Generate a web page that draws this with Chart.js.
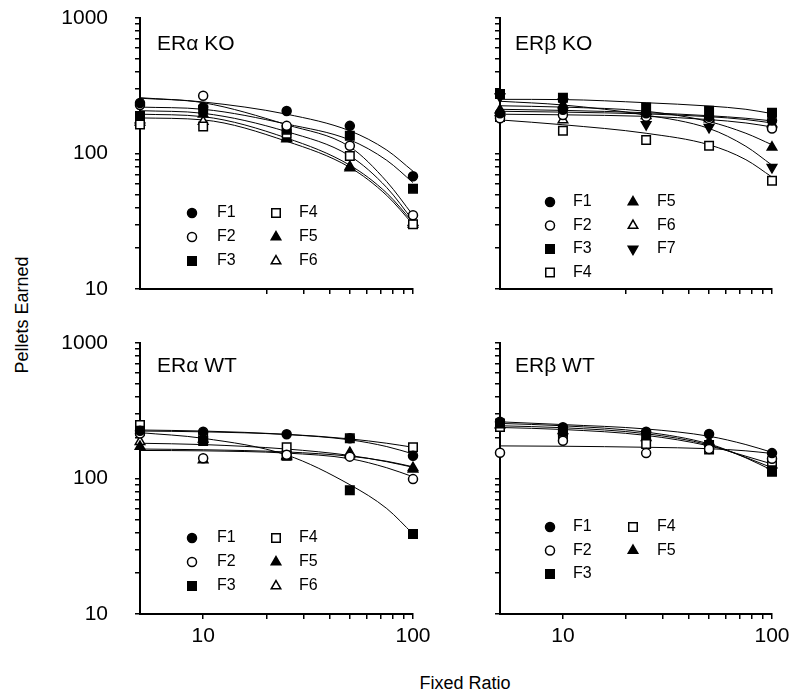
<!DOCTYPE html>
<html>
<head>
<meta charset="utf-8">
<script src="https://cdn.jsdelivr.net/npm/chart.js@4.4.1/dist/chart.umd.min.js"></script>
<style>
  html, body { margin: 0; padding: 0; background: #fff; }
  body { width: 800px; height: 698px; position: relative; overflow: hidden;
         font-family: "Liberation Sans", Arial, sans-serif; color: #000; }
  canvas { position: absolute; }
  .panel-title { position: absolute; font-size: 21px; line-height: 1; white-space: nowrap; }
  .axis-title { position: absolute; font-size: 18px; line-height: 1; white-space: nowrap; }
</style>
</head>
<body>
<canvas id="alphaKo" width="388" height="309" style="left:50px;top:0px"></canvas>
<canvas id="betaKo" width="347" height="309" style="left:450px;top:0px"></canvas>
<canvas id="alphaWt" width="388" height="329" style="left:50px;top:325px"></canvas>
<canvas id="betaWt" width="347" height="329" style="left:450px;top:325px"></canvas>

<div class="panel-title" style="left:157px;top:32px">ERα KO</div>
<div class="panel-title" style="left:515px;top:32px">ERβ KO</div>
<div class="panel-title" style="left:157px;top:354px">ERα WT</div>
<div class="panel-title" style="left:515px;top:354px">ERβ WT</div>

<div class="axis-title" style="left:22px;top:315px;transform:translate(-50%,-50%) rotate(-90deg)">Pellets Earned</div>
<div class="axis-title" style="left:465px;top:683px;transform:translate(-50%,-50%)">Fixed Ratio</div>

<script>
// x values where pellets were measured, and where the fitted curves were read
const fixedRatios = [5, 10, 25, 50, 100];
const fitRatios = [5, 10, 25, 50, 75, 100];

const yTickValues = [10, 20, 30, 40, 50, 60, 70, 80, 90, 100, 200, 300, 400, 500, 600, 700, 800, 900, 1000];
const yTickLabels = [10, 100, 1000];
const xTickValuesTop = [20, 30, 40, 50, 60, 70, 80, 90, 100];
const xTickValuesBottom = [10, 20, 30, 40, 50, 60, 70, 80, 90, 100];
const xTickLabels = [10, 100];

const groupNames = ['F1', 'F2', 'F3', 'F4', 'F5', 'F6', 'F7'];

// ERα KO
const alphaKoPoints = [
    [236, 220, 206, 160, 68],
    [228, 267, 160, 114, 35],
    [189, 210, 150, 135, 55],
    [164, 158, 140, 96, 30],
    [177, 195, 130, 80, 30],
    [170, 172, 128, 78, 31]
];
const alphaKoFits = [
    [258, 240, 195, 147, 106, 74],
    [256, 237, 163, 112, 62, 35],
    [220, 212, 165, 126, 89, 61],
    [207, 198, 145, 96, 56, 32],
    [195, 187, 130, 82, 51, 31],
    [183, 177, 123, 79, 49, 30]
];

// ERβ KO
const betaKoPoints = [
    [198, 210, 198, 187, 175],
    [182, 192, 187, 180, 153],
    [275, 258, 219, 207, 200],
    [186, 147, 126, 114, 63],
    [209, 228, 204, 180, 111],
    [200, 177, 190, 185, 165],
    [262, 240, 164, 156, 79]
];
const betaKoFits = [
    [212, 208, 200, 190, 182, 174],
    [195, 193, 188, 178, 168, 157],
    [251, 250, 237, 224, 212, 197],
    [177, 163, 141, 116, 90, 67],
    [225, 220, 205, 172, 141, 116],
    [205, 202, 196, 187, 178, 168],
    [243, 228, 192, 153, 113, 82]
];

// ERα WT
const alphaWtPoints = [
    [225, 221, 212, 198, 147],
    [215, 141, 150, 145, 99],
    [225, 189, 147, 82, 39],
    [248, 204, 170, 198, 170],
    [172, 195, 147, 155, 117],
    [187, 137, 145, 150, 120]
];
const alphaWtFits = [
    [224, 221, 211, 193, 172, 152],
    [161, 160, 154, 140, 120, 103],
    [218, 198, 149, 90, 60, 39],
    [228, 224, 212, 196, 182, 170],
    [165, 163, 157, 146, 134, 122],
    [182, 178, 165, 148, 133, 121]
];

// ERβ WT
const betaWtPoints = [
    [262, 239, 221, 213, 154],
    [155, 190, 154, 165, 140],
    [255, 221, 209, 177, 112],
    [240, 210, 180, 164, 133],
    [248, 225, 200, 187, 126]
];
const betaWtFits = [
    [262, 250, 232, 205, 178, 156],
    [174, 173, 170, 166, 160, 153],
    [255, 245, 220, 180, 142, 115],
    [238, 230, 208, 174, 146, 128],
    [245, 237, 214, 177, 143, 120]
];

const markerStyles = {
    F1: { pointStyle: 'circle', radius: 4.5, fill: '#000', rotation: 0 },
    F2: { pointStyle: 'circle', radius: 4.5, fill: '#fff', rotation: 0 },
    F3: { pointStyle: 'rect', radius: 6, fill: '#000', rotation: 0 },
    F4: { pointStyle: 'rect', radius: 6, fill: '#fff', rotation: 0 },
    F5: { pointStyle: 'triangle', radius: 5.5, fill: '#000', rotation: 0 },
    F6: { pointStyle: 'triangle', radius: 5.5, fill: '#fff', rotation: 0 },
    F7: { pointStyle: 'triangle', radius: 5.5, fill: '#000', rotation: 180 }
};

Chart.defaults.font.family = '"Liberation Sans", Arial, sans-serif';
Chart.defaults.color = '#000';

function drawMarker(ctx, style, x, y) {
    const r = style.radius;
    ctx.save();
    ctx.translate(x, y);
    ctx.rotate(style.rotation * Math.PI / 180);
    ctx.beginPath();
    if (style.pointStyle === 'circle') {
        ctx.arc(0, 0, r, 0, Math.PI * 2);
    } else if (style.pointStyle === 'rect') {
        const s = r * Math.SQRT1_2;
        ctx.rect(-s, -s, 2 * s, 2 * s);
    } else {
        for (let i = 0; i < 3; i++) {
            const a = i * 2 * Math.PI / 3;
            const px = Math.sin(a) * r;
            const py = -Math.cos(a) * r;
            if (i === 0) ctx.moveTo(px, py); else ctx.lineTo(px, py);
        }
        ctx.closePath();
    }
    ctx.fillStyle = style.fill;
    ctx.fill();
    ctx.lineWidth = 1.5;
    ctx.strokeStyle = '#000';
    ctx.stroke();
    ctx.restore();
}

function legendPlugin(names, legend) {
    return {
        id: 'panelLegend',
        afterDraw(chart) {
            const ctx = chart.ctx;
            const area = chart.chartArea;
            const perColumn = Math.ceil(names.length / 2);
            ctx.save();
            ctx.font = '16px "Liberation Sans", Arial, sans-serif';
            ctx.textBaseline = 'middle';
            ctx.textAlign = 'left';
            names.forEach((name, i) => {
                const col = Math.floor(i / perColumn);
                const row = i % perColumn;
                const y = area.top + legend.top + row * legend.step;
                drawMarker(ctx, markerStyles[name], area.left + legend.markerX[col], y);
                ctx.fillStyle = '#000';
                ctx.fillText(name, area.left + legend.textX[col], y);
            });
            ctx.restore();
        }
    };
}

function buildPanel(canvasId, points, fits, opts) {
    const names = groupNames.slice(0, points.length);
    const datasets = [];

    names.forEach((name, i) => {
        const style = markerStyles[name];
        datasets.push({
            label: name,
            data: fixedRatios.map((x, j) => ({ x: x, y: points[i][j] })),
            showLine: false,
            pointStyle: style.pointStyle,
            pointRadius: style.radius,
            pointRotation: style.rotation,
            pointBackgroundColor: style.fill,
            pointBorderColor: '#000',
            pointBorderWidth: 1.5,
            order: 0,
            clip: false
        });
    });

    names.forEach((name, i) => {
        datasets.push({
            label: name + ' fit',
            data: fitRatios.map((x, j) => ({ x: x, y: fits[i][j] })),
            showLine: true,
            borderColor: '#000',
            borderWidth: 1,
            pointRadius: 0,
            cubicInterpolationMode: 'monotone',
            fill: false,
            order: 1,
            clip: false
        });
    });

    const xTicks = opts.xLabels ? xTickValuesBottom : xTickValuesTop;

    new Chart(document.getElementById(canvasId), {
        type: 'scatter',
        data: { datasets: datasets },
        options: {
            responsive: false,
            animation: false,
            events: [],
            layout: { padding: { left: 0, right: 25, top: 18, bottom: 0 } },
            plugins: {
                legend: { display: false },
                tooltip: { enabled: false }
            },
            scales: {
                x: {
                    type: 'logarithmic',
                    min: 5,
                    max: 100,
                    afterBuildTicks: (axis) => {
                        axis.ticks = xTicks.map(v => ({ value: v }));
                    },
                    afterFit: (axis) => {
                        axis.height = opts.xLabels ? 40 : 20;
                        axis.paddingLeft = 0;
                        axis.paddingRight = 0;
                    },
                    ticks: {
                        autoSkip: false,
                        maxRotation: 0,
                        padding: 5,
                        font: { size: 21 },
                        callback: (value) => (opts.xLabels && xTickLabels.includes(value)) ? String(value) : ''
                    },
                    grid: { drawOnChartArea: false, drawTicks: true, tickLength: 5, color: '#000', lineWidth: 1.5 },
                    border: { display: true, color: '#000', width: 2 }
                },
                y: {
                    type: 'logarithmic',
                    min: 10,
                    max: 1000,
                    afterBuildTicks: (axis) => {
                        axis.ticks = yTickValues.map(v => ({ value: v }));
                    },
                    afterFit: (axis) => {
                        axis.width = opts.yLabels ? 90 : 50;
                        axis.paddingTop = 0;
                        axis.paddingBottom = 0;
                    },
                    ticks: {
                        autoSkip: false,
                        padding: 27,
                        font: { size: 21 },
                        callback: (value) => (opts.yLabels && yTickLabels.includes(value)) ? String(value) : ''
                    },
                    grid: { drawOnChartArea: false, drawTicks: true, tickLength: 5, color: '#000', lineWidth: 1.5 },
                    border: { display: true, color: '#000', width: 2 }
                }
            }
        },
        plugins: [legendPlugin(names, opts.legend)]
    });
}

const leftLegend = { top: 195, step: 24, markerX: [52, 136], textX: [77, 159] };
const rightLegend = { top: 184, step: 23.5, markerX: [50, 133], textX: [73, 157] };

buildPanel('alphaKo', alphaKoPoints, alphaKoFits, { yLabels: true, xLabels: false, legend: leftLegend });
buildPanel('betaKo', betaKoPoints, betaKoFits, { yLabels: false, xLabels: false, legend: rightLegend });
buildPanel('alphaWt', alphaWtPoints, alphaWtFits, { yLabels: true, xLabels: true, legend: leftLegend });
buildPanel('betaWt', betaWtPoints, betaWtFits, { yLabels: false, xLabels: true, legend: rightLegend });
</script>
</body>
</html>
